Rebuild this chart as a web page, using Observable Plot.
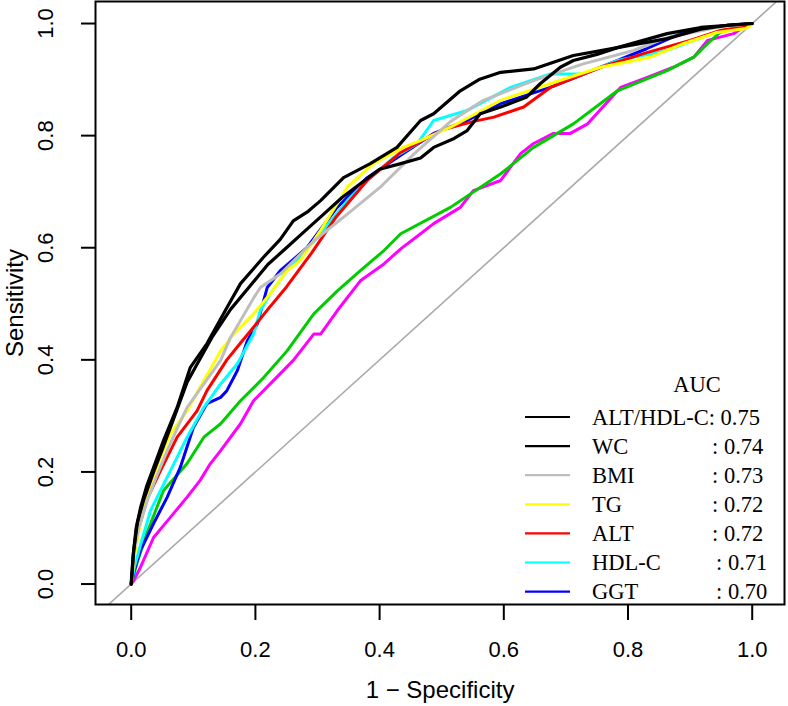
<!DOCTYPE html>
<html>
<head>
<meta charset="utf-8">
<script src="https://cdn.jsdelivr.net/npm/d3@7"></script>
<script src="https://cdn.jsdelivr.net/npm/@observablehq/plot@0.6"></script>
<style>
  html, body { margin: 0; padding: 0; background: #fff; }
  g[aria-label^="x-axis"] line, g[aria-label^="x-axis"] path,
  g[aria-label^="y-axis"] line, g[aria-label^="y-axis"] path { stroke-width: 2px; }
</style>
</head>
<body>
<div id="chart"></div>
<script>
// ---- Data (1 - specificity, sensitivity) ----
const altHdlX = [0, 0.003, 0.008, 0.015, 0.025, 0.036, 0.052, 0.074, 0.095, 0.122, 0.154, 0.176, 0.213, 0.24, 0.261, 0.285, 0.305, 0.342, 0.385, 0.428, 0.466, 0.487, 0.53, 0.56, 0.595, 0.648, 0.712, 0.783, 0.863, 0.917, 0.96, 1];
const altHdlY = [0, 0.05, 0.1, 0.136, 0.175, 0.208, 0.256, 0.315, 0.386, 0.429, 0.493, 0.536, 0.583, 0.615, 0.648, 0.665, 0.684, 0.725, 0.75, 0.779, 0.827, 0.839, 0.88, 0.9, 0.913, 0.919, 0.943, 0.957, 0.973, 0.99, 0.997, 1];

const wcX = [0, 0.004, 0.01, 0.02, 0.036, 0.05, 0.07, 0.09, 0.11, 0.13, 0.16, 0.19, 0.22, 0.25, 0.28, 0.31, 0.34, 0.37, 0.40, 0.434, 0.466, 0.487, 0.52, 0.541, 0.562, 0.595, 0.637, 0.659, 0.691, 0.712, 0.75, 0.783, 0.863, 0.917, 1];
const wcY = [0, 0.06, 0.11, 0.15, 0.2, 0.24, 0.3, 0.36, 0.4, 0.44, 0.49, 0.53, 0.57, 0.6, 0.63, 0.66, 0.69, 0.715, 0.74, 0.75, 0.76, 0.779, 0.795, 0.809, 0.839, 0.851, 0.869, 0.893, 0.922, 0.934, 0.945, 0.957, 0.982, 0.993, 1];

const bmiX = [0, 0.005, 0.012, 0.026, 0.04, 0.058, 0.075, 0.09, 0.117, 0.144, 0.16, 0.176, 0.197, 0.208, 0.24, 0.251, 0.294, 0.348, 0.401, 0.455, 0.514, 0.567, 0.648, 0.728, 0.809, 0.863, 0.943, 1];
const bmiY = [0, 0.06, 0.1, 0.149, 0.19, 0.238, 0.28, 0.315, 0.357, 0.399, 0.44, 0.47, 0.51, 0.529, 0.553, 0.565, 0.612, 0.66, 0.708, 0.767, 0.825, 0.863, 0.898, 0.928, 0.952, 0.975, 0.993, 1];

const tgX = [0, 0.005, 0.015, 0.031, 0.045, 0.063, 0.09, 0.111, 0.144, 0.165, 0.197, 0.224, 0.251, 0.272, 0.305, 0.348, 0.39, 0.438, 0.466, 0.514, 0.595, 0.675, 0.756, 0.836, 0.889, 0.943, 0.99, 1];
const tgY = [0, 0.05, 0.11, 0.178, 0.22, 0.268, 0.309, 0.351, 0.416, 0.446, 0.482, 0.518, 0.559, 0.577, 0.631, 0.708, 0.75, 0.779, 0.791, 0.815, 0.863, 0.893, 0.922, 0.94, 0.964, 0.984, 0.991, 1];

const altX = [0, 0.004, 0.01, 0.025, 0.047, 0.074, 0.106, 0.122, 0.154, 0.176, 0.197, 0.22, 0.25, 0.29, 0.33, 0.38, 0.434, 0.5, 0.55, 0.584, 0.632, 0.675, 0.756, 0.83, 0.9, 0.95, 0.99, 1];
const altY = [0, 0.05, 0.09, 0.15, 0.202, 0.262, 0.309, 0.345, 0.4, 0.43, 0.458, 0.49, 0.53, 0.59, 0.655, 0.72, 0.77, 0.81, 0.825, 0.833, 0.851, 0.886, 0.922, 0.948, 0.97, 0.988, 0.995, 1];

const hdlX = [0, 0.005, 0.015, 0.031, 0.063, 0.09, 0.117, 0.144, 0.171, 0.197, 0.208, 0.224, 0.251, 0.261, 0.305, 0.348, 0.38, 0.423, 0.461, 0.487, 0.541, 0.611, 0.675, 0.728, 0.783, 0.863, 0.906, 0.943, 1];
const hdlY = [0, 0.03, 0.07, 0.131, 0.202, 0.262, 0.315, 0.357, 0.393, 0.446, 0.488, 0.518, 0.559, 0.571, 0.625, 0.684, 0.72, 0.761, 0.786, 0.827, 0.845, 0.886, 0.91, 0.91, 0.934, 0.952, 0.97, 0.984, 1];

const ggtX = [0, 0.005, 0.015, 0.036, 0.058, 0.079, 0.1, 0.122, 0.144, 0.154, 0.171, 0.187, 0.203, 0.219, 0.24, 0.283, 0.33, 0.38, 0.434, 0.487, 0.541, 0.595, 0.675, 0.756, 0.83, 0.889, 0.95, 1];
const ggtY = [0, 0.025, 0.06, 0.108, 0.155, 0.208, 0.279, 0.322, 0.333, 0.345, 0.381, 0.434, 0.464, 0.529, 0.559, 0.6, 0.67, 0.725, 0.765, 0.804, 0.827, 0.857, 0.886, 0.922, 0.955, 0.984, 0.995, 1];

const greenX = [0, 0.01, 0.025, 0.052, 0.09, 0.117, 0.144, 0.176, 0.213, 0.251, 0.294, 0.332, 0.369, 0.407, 0.434, 0.514, 0.595, 0.648, 0.712, 0.783, 0.863, 0.906, 0.928, 0.948, 0.97, 1];
const greenY = [0, 0.04, 0.09, 0.167, 0.215, 0.262, 0.286, 0.327, 0.368, 0.416, 0.482, 0.523, 0.559, 0.595, 0.625, 0.672, 0.732, 0.779, 0.821, 0.88, 0.916, 0.94, 0.964, 0.984, 0.991, 1];

const magentaX = [0, 0.004, 0.015, 0.036, 0.063, 0.09, 0.111, 0.127, 0.144, 0.176, 0.197, 0.229, 0.261, 0.294, 0.305, 0.332, 0.369, 0.407, 0.434, 0.466, 0.487, 0.53, 0.551, 0.595, 0.627, 0.648, 0.68, 0.707, 0.735, 0.788, 0.831, 0.873, 0.906, 0.928, 0.97, 0.99, 1];
const magentaY = [0, 0.006, 0.03, 0.083, 0.119, 0.155, 0.185, 0.214, 0.238, 0.286, 0.327, 0.363, 0.399, 0.446, 0.446, 0.488, 0.541, 0.571, 0.598, 0.625, 0.643, 0.672, 0.702, 0.72, 0.768, 0.786, 0.804, 0.804, 0.821, 0.886, 0.904, 0.922, 0.94, 0.97, 0.982, 0.996, 1];

const diagX = [-0.2, 1.2];
const diagY = [-0.2, 1.2];

const xTicks = [0, 0.2, 0.4, 0.6, 0.8, 1.0];
const yTicks = [0, 0.2, 0.4, 0.6, 0.8, 1.0];

const legendNames = ["ALT/HDL-C", "WC", "BMI", "TG", "ALT", "HDL-C", "GGT"];
const legendAUC = ["0.75", "0.74", "0.73", "0.72", "0.72", "0.71", "0.70"];
const legendColors = ["#000000", "#000000", "#BEBEBE", "#FFFF00", "#FF0000", "#00FFFF", "#0000FF"];

// ---- Build series (draw order: unlabeled first, then legend in reverse) ----
const zip = (xs, ys) => xs.map((x, i) => ({x, y: ys[i]}));
const series = [
  {pts: zip(magentaX, magentaY), color: "#FF00FF", w: 3},
  {pts: zip(greenX, greenY), color: "#00CD00", w: 3},
  {pts: zip(ggtX, ggtY), color: "#0000FF", w: 3},
  {pts: zip(hdlX, hdlY), color: "#00FFFF", w: 3},
  {pts: zip(altX, altY), color: "#FF0000", w: 3},
  {pts: zip(tgX, tgY), color: "#FFFF00", w: 3},
  {pts: zip(bmiX, bmiY), color: "#BEBEBE", w: 3},
  {pts: zip(wcX, wcY), color: "#000000", w: 3.2},
  {pts: zip(altHdlX, altHdlY), color: "#000000", w: 3.2}
];

const W = 788, H = 706;
const mL = 95, mR = 4, mT = 1, mB = 102;
const FS = 22;
const FT = 24;

const svg = Plot.plot({
  width: W,
  height: H,
  marginLeft: mL,
  marginRight: mR,
  marginTop: mT,
  marginBottom: mB,
  style: {fontFamily: "'Liberation Sans', Arial, sans-serif", fontSize: FS + "px", color: "#000", background: "#fff"},
  x: {domain: [-0.0575, 1.052], ticks: xTicks, tickSize: 16, tickPadding: 21, tickFormat: d => d.toFixed(1), label: null},
  y: {domain: [-0.0365, 1.0393], ticks: yTicks, tickSize: 14, tickFormat: () => "", label: null},
  marks: [
    Plot.line(zip(diagX, diagY), {x: "x", y: "y", stroke: "#AAAAAA", strokeWidth: 1.6, clip: true}),
    ...series.map(s => Plot.line(s.pts, {x: "x", y: "y", stroke: s.color, strokeWidth: s.w, strokeLinejoin: "round", clip: true})),
    Plot.frame({stroke: "#000", strokeWidth: 2}),
    Plot.text(yTicks, {y: d => d, text: d => d.toFixed(1), frameAnchor: "left", textAnchor: "middle", lineAnchor: "middle", dx: -50, rotate: -90, fontSize: FS}),
    Plot.text(["1 \u2212 Specificity"], {text: d => d, frameAnchor: "bottom", textAnchor: "middle", lineAnchor: "middle", dy: 86, fontSize: FT}),
    Plot.text(["Sensitivity"], {text: d => d, frameAnchor: "left", textAnchor: "middle", lineAnchor: "middle", dx: -80, rotate: -90, fontSize: FT})
  ]
});

// ---- Legend (R-style, no box) ----
const lg = d3.select(svg).append("g")
  .attr("font-family", "'Liberation Serif', 'Times New Roman', serif")
  .attr("font-size", 22.5)
  .attr("text-anchor", "start")
  .attr("fill", "#000");
lg.append("text").attr("x", 697).attr("y", 384).attr("text-anchor", "middle").attr("dy", "0.35em").text("AUC");
legendNames.forEach((name, i) => {
  const y = 417 + i * 29.1;
  lg.append("line").attr("x1", 525).attr("x2", 570).attr("y1", y).attr("y2", y)
    .attr("stroke", legendColors[i]).attr("stroke-width", 2.2);
  if (i === 0) {
    lg.append("text").attr("x", 592).attr("y", y).attr("dy", "0.35em").attr("text-anchor", "start").text(name + ": " + legendAUC[i]);
  } else {
    lg.append("text").attr("x", 592).attr("y", y).attr("dy", "0.35em").attr("text-anchor", "start").text(name);
    lg.append("text").attr("x", i >= 5 ? 716 : 712).attr("y", y).attr("dy", "0.35em").attr("text-anchor", "start").text(": " + legendAUC[i]);
  }
});

document.getElementById("chart").appendChild(svg);
</script>
</body>
</html>
